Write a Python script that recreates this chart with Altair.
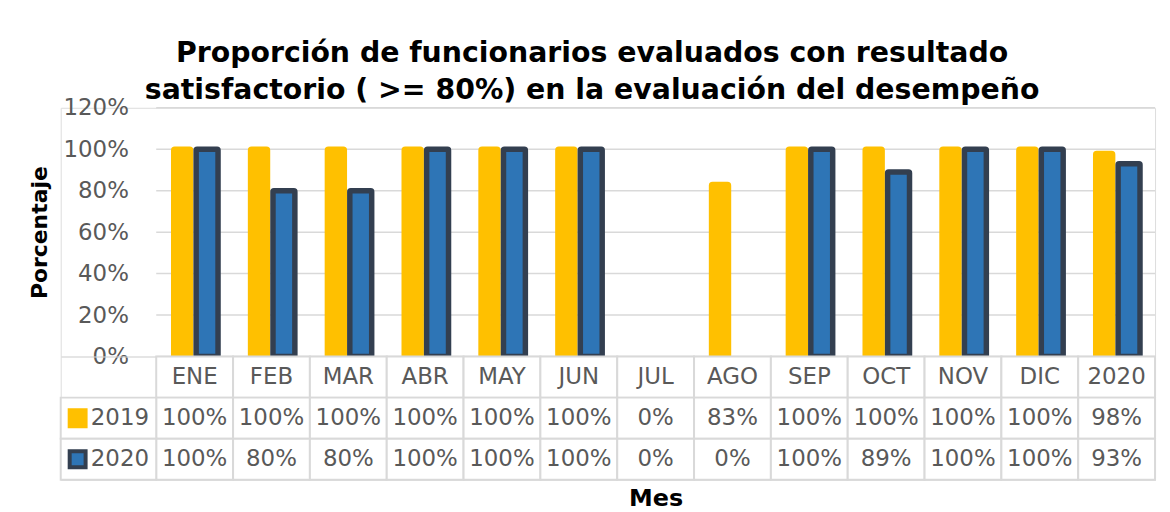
import altair as alt
import pandas as pd

# ---- data ----
months = ["ENE", "FEB", "MAR", "ABR", "MAY", "JUN", "JUL", "AGO", "SEP", "OCT", "NOV", "DIC", "2020"]
series = ["2019", "2020"]
v2019 = [100, 100, 100, 100, 100, 100, 0, 83, 100, 100, 100, 100, 98]
v2020 = [100, 80, 80, 100, 100, 100, 0, 0, 100, 89, 100, 100, 93]
y_ticks = [0, 20, 40, 60, 80, 100, 120]
title_lines = [
    "Proporción de funcionarios evaluados con resultado",
    "satisfactorio ( >= 80%) en la evaluación del desempeño",
]
x_title = "Mes"
y_title = "Porcentaje"

# ---- styles ----
FONT = "DejaVu Sans"
GRAY = "#595959"
BORDER = "#D9D9D9"
fill_colors = ["#FFC000", "#2E75B6"]
stroke_colors = ["#FFC000", "#333F50"]

# ---- tables built from the arrays ----
rows = []
for s, vals in zip(series, [v2019, v2020]):
    for m, v in zip(months, vals):
        rows.append({"month": m, "series": s, "value": v / 100})
df = pd.DataFrame(rows)

grid_df = pd.DataFrame({"value": [t / 100 for t in y_ticks]})

cells = [{"month": m, "row": "hdr", "label": m} for m in months]
for s, vals in zip(series, [v2019, v2020]):
    for m, v in zip(months, vals):
        cells.append({"month": m, "row": s, "label": f"{v}%"})
cells_df = pd.DataFrame(cells)

leg_df = pd.DataFrame({"col": ["leyenda"] * len(series), "row": series, "series": series})

fill_scale = alt.Scale(domain=series, range=fill_colors)
stroke_scale = alt.Scale(domain=series, range=stroke_colors)

# ---- bar panel ----
y_enc = alt.Y(
    "value:Q",
    scale=alt.Scale(domain=[0, 1.2], nice=False),
    axis=alt.Axis(
        values=[t / 100 for t in y_ticks],
        format=".0%",
        title=y_title,
        offset=-96,
        grid=False,
        domain=False,
        ticks=False,
        labelFont=FONT,
        labelFontSize=23,
        labelColor=GRAY,
        labelPadding=28,
        titleFont=FONT,
        titleFontSize=22,
        titleFontWeight="bold",
        titleColor="black",
        titlePadding=12,
    ),
)

grid = alt.Chart(grid_df).mark_rule(color=BORDER, strokeWidth=1.5).encode(
    y=y_enc,
    x=alt.X(datum=0, scale=alt.Scale(domain=[0, 1], range=[96, 1100]), axis=None),
    x2=alt.X2(datum=1),
)

bar_x = alt.Scale(domain=months, range=[96, 1100], paddingInner=0.352, paddingOuter=0.176)
bars = (
    alt.Chart(df)
    .transform_filter("datum.value > 0")
    .mark_bar(strokeWidth=5.5, strokeJoin="round", cornerRadius=1)
    .encode(
        x=alt.X("month:N", scale=bar_x, sort=months, axis=None),
        xOffset=alt.XOffset("series:N", scale=alt.Scale(domain=series, paddingInner=0, paddingOuter=0)),
        y=y_enc,
        fill=alt.Fill("series:N", scale=fill_scale, legend=None),
        stroke=alt.Stroke("series:N", scale=stroke_scale, legend=None),
        size=alt.Size("series:N", scale=alt.Scale(domain=series, range=[17, 22]), legend=None),
    )
)

top = alt.layer(grid, bars).resolve_scale(x="independent").properties(width=1100, height=250)

# ---- data table panel ----
tx = alt.Scale(domain=months, range=[96, 1100], paddingInner=0, paddingOuter=0)
ty = alt.Scale(domain=["hdr"] + series, paddingInner=0, paddingOuter=0)
leg_x = alt.Scale(domain=["leyenda"], range=[0, 96], paddingInner=0, paddingOuter=0)

cell_rect = alt.Chart(cells_df).mark_rect(fill="white", stroke=BORDER, strokeWidth=2).encode(
    x=alt.X(
        "month:N",
        scale=tx,
        sort=months,
        axis=alt.Axis(
            title=x_title,
            labels=False,
            ticks=False,
            domain=False,
            titleFont=FONT,
            titleFontSize=24,
            titleFontWeight="bold",
            titleColor="black",
            titlePadding=7,
        ),
    ),
    y=alt.Y("row:N", scale=ty, axis=None),
)
cell_text = alt.Chart(cells_df).mark_text(font=FONT, fontSize=23, color=GRAY).encode(
    x=alt.X("month:N", scale=tx, sort=months, axis=None),
    y=alt.Y("row:N", scale=ty, axis=None),
    text="label:N",
)
leg_rect = alt.Chart(leg_df).mark_rect(fill="white", stroke=BORDER, strokeWidth=2).encode(
    x=alt.X("col:N", scale=leg_x, axis=None),
    y=alt.Y("row:N", scale=ty, axis=None),
)
leg_sw = alt.Chart(leg_df).mark_square(size=256, strokeWidth=4, opacity=1, xOffset=-31, cornerRadius=2).encode(
    x=alt.X("col:N", scale=leg_x, axis=None),
    y=alt.Y("row:N", scale=ty, axis=None),
    fill=alt.Fill("series:N", scale=fill_scale, legend=None),
    stroke=alt.Stroke("series:N", scale=stroke_scale, legend=None),
)
leg_txt = alt.Chart(leg_df).mark_text(font=FONT, fontSize=23, color=GRAY, dx=11.5).encode(
    x=alt.X("col:N", scale=leg_x, axis=None),
    y=alt.Y("row:N", scale=ty, axis=None),
    text="series:N",
)
table = (
    alt.layer(cell_rect, cell_text, leg_rect, leg_sw, leg_txt)
    .resolve_scale(x="independent", fill="independent", stroke="independent")
    .properties(width=1100, height=124)
)

chart = (
    alt.vconcat(
        top,
        table,
        spacing=0,
        bounds="flush",
        padding={"left": 19, "top": 30, "right": 5, "bottom": 2},
        title=alt.Title(
            text=title_lines,
            font=FONT,
            fontSize=28.5,
            fontWeight="bold",
            color="black",
            anchor="middle",
            lineHeight=37,
            offset=-8,
        ),
    )
    .configure_view(stroke=None)
    .configure(font=FONT)
)

chart.save("out.html", embed_options={"renderer": "svg", "actions": False})
